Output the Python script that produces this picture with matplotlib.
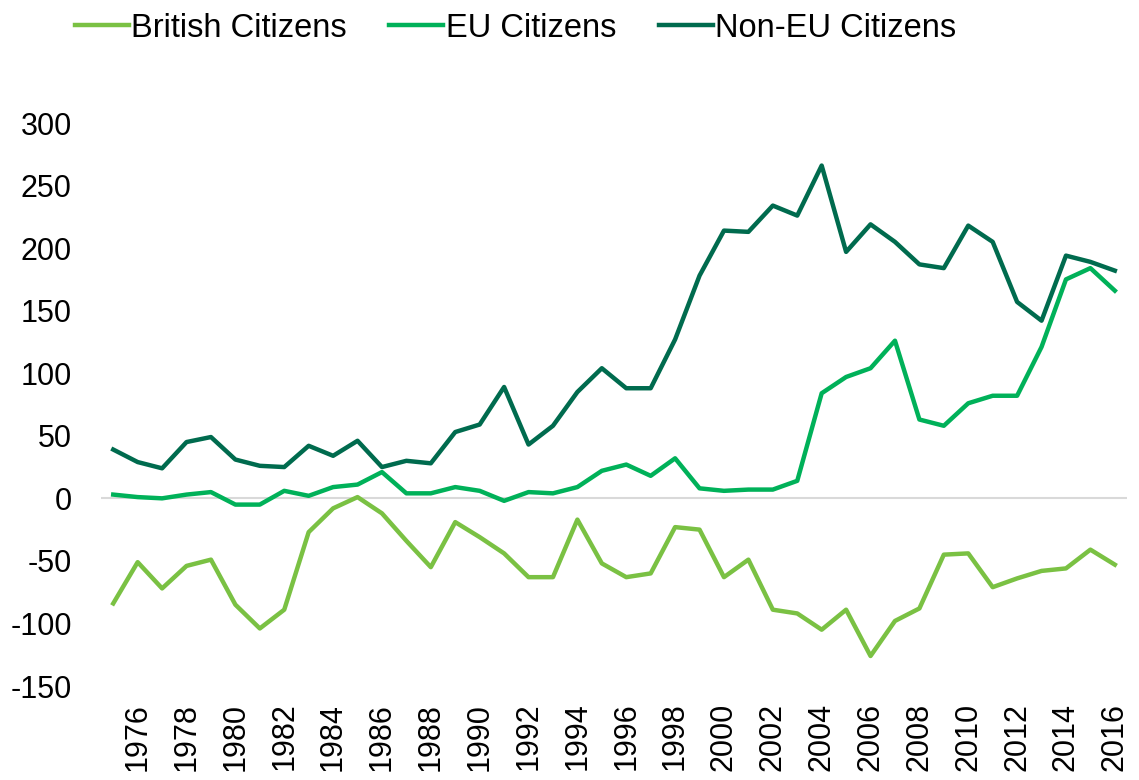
import matplotlib.pyplot as plt

plt.rcParams['font.family'] = ['Liberation Sans', 'DejaVu Sans']
plt.rcParams['axes.unicode_minus'] = False

# годы и чистая миграция (тыс.) по группам
years = list(range(1975, 2017))
british = [-84, -51, -72, -54, -49, -85, -104, -89, -27, -8, 1, -12, -34, -55, -19,
           -31, -44, -63, -63, -17, -52, -63, -60, -23, -25, -63, -49, -89, -92, -105,
           -89, -126, -98, -88, -45, -44, -71, -64, -58, -56, -41, -53]
eu = [3, 1, 0, 3, 5, -5, -5, 6, 2, 9, 11, 21, 4, 4, 9,
      6, -2, 5, 4, 9, 22, 27, 18, 32, 8, 6, 7, 7, 14, 84,
      97, 104, 126, 63, 58, 76, 82, 82, 121, 175, 184, 166]
non_eu = [39, 29, 24, 45, 49, 31, 26, 25, 42, 34, 46, 25, 30, 28, 53,
          59, 89, 43, 58, 85, 104, 88, 88, 127, 178, 214, 213, 234, 226, 266,
          197, 219, 205, 187, 184, 218, 205, 157, 142, 194, 189, 182]
xticks = list(range(1976, 2017, 2))

fig = plt.figure(figsize=(11.39, 7.8), dpi=100)
ax = fig.add_axes([0.0887, 0.1205, 0.9008, 0.7218])

ax.axhline(0, color='#D9D9D9', lw=1.5, zorder=1)
ax.plot(years, british, color='#7AC143', lw=3.2, label='British Citizens', zorder=3)
ax.plot(years, eu, color='#00B159', lw=3.2, label='EU Citizens', zorder=3)
ax.plot(years, non_eu, color='#006B4E', lw=3.2, label='Non-EU Citizens', zorder=3)

ax.set_xlim(1974.5, 2016.5)
ax.set_ylim(-150, 300)
ax.set_yticks(range(-150, 301, 50))
ax.set_xticks(xticks)
ax.set_xticklabels([str(y) for y in xticks], rotation=90)
ax.tick_params(axis='both', length=0, labelsize=22)
ax.tick_params(axis='y', pad=21)
ax.tick_params(axis='x', pad=12)
for s in ax.spines.values():
    s.set_visible(False)

fig.legend(loc='upper left', bbox_to_anchor=(0.060, 0.992), ncol=3, frameon=False,
           fontsize=23.5, handlelength=1.65, handletextpad=0.08, columnspacing=1.3,
           borderpad=0.2, borderaxespad=0)

fig.savefig('out.png', dpi=100)
